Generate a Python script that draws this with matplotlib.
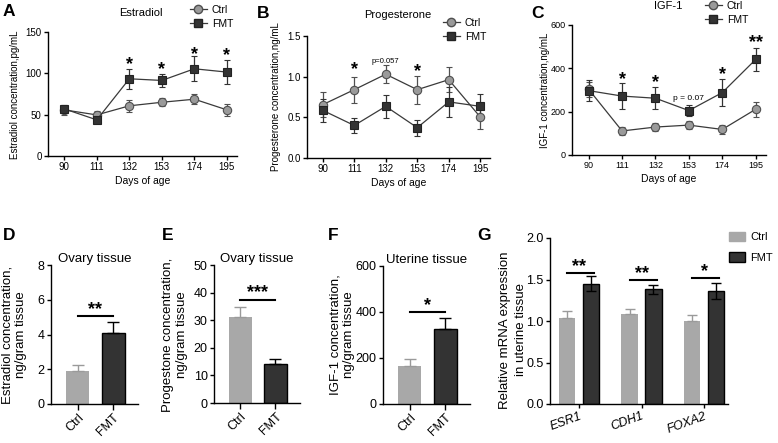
import matplotlib
matplotlib.use("Agg")
import matplotlib.pyplot as plt
import numpy as np
from matplotlib.lines import Line2D
from matplotlib.patches import Patch

plt.rcParams['font.family'] = ['Liberation Sans', 'DejaVu Sans']
plt.rcParams['axes.linewidth'] = 1.0

W, H = 778, 443

# ---------------- data ----------------
days = [90, 111, 132, 153, 174, 195]

e2_ctrl = [55.8, 49.7, 60.7, 65.0, 68.7, 55.8]
e2_ctrl_err = [6, 5, 7, 5, 6, 7]
e2_fmt = [57.0, 43.7, 93.4, 91.4, 105.5, 101.5]
e2_fmt_err = [5, 3, 12, 8, 15, 15]

p4_ctrl = [0.656, 0.84, 1.03, 0.84, 0.963, 0.504]
p4_ctrl_err = [0.15, 0.16, 0.11, 0.17, 0.15, 0.15]
p4_fmt = [0.586, 0.40, 0.635, 0.373, 0.69, 0.635]
p4_fmt_err = [0.14, 0.09, 0.14, 0.10, 0.18, 0.15]

igf_ctrl = [303, 111, 129, 138, 118, 211]
igf_ctrl_err = [35, 17, 20, 20, 20, 35]
igf_fmt = [297, 272, 262, 205, 288, 441]
igf_fmt_err = [50, 59, 50, 26, 61, 55]

groups = ['Ctrl', 'FMT']
ovary_e2 = [1.9, 4.1]
ovary_e2_err = [0.35, 0.6]
ovary_p4 = [31.3, 14.1]
ovary_p4_err = [3.4, 2.0]
uterus_igf = [165, 328]
uterus_igf_err = [30, 48]

genes = ['ESR1', 'CDH1', 'FOXA2']
mrna_ctrl = [1.04, 1.09, 1.00]
mrna_ctrl_err = [0.08, 0.06, 0.07]
mrna_fmt = [1.45, 1.38, 1.36]
mrna_fmt_err = [0.09, 0.05, 0.10]

CTRL_BAR = '#a8a8a8'
FMT_BAR = '#333333'
CTRL_MK = '#9a9a9a'
LINE_C = '#3a3a3a'

fig = plt.figure(figsize=(W / 100, H / 100), dpi=100)


def add_ax(l, r, t, b):
    return fig.add_axes([l / W, 1 - b / H, (r - l) / W, (b - t) / H])


def px(x, y):
    return x / W, 1 - y / H


def style(ax, fs, pad=2):
    ax.spines['top'].set_visible(False)
    ax.spines['right'].set_visible(False)
    ax.tick_params(labelsize=fs, length=3, width=1.0, pad=pad)


def line_panel(ax, ctrl, cerr, fmt, ferr, ylim, yticks, ytl, fs=7):
    ax.errorbar(days, ctrl, yerr=cerr, color=LINE_C, lw=0.9, marker='o', ms=6,
                mfc=CTRL_MK, mec='#505050', mew=0.8, capsize=2.5, elinewidth=0.9,
                ecolor='#505050', zorder=3)
    ax.errorbar(days, fmt, yerr=ferr, color=LINE_C, lw=0.9, marker='s', ms=6,
                mfc='#333333', mec='#222222', mew=0.8, capsize=2.5, elinewidth=0.9,
                ecolor='#333333', zorder=3)
    ax.set_xlim(79.5, 201.5)
    ax.set_ylim(*ylim)
    ax.set_xticks(days)
    ax.set_yticks(yticks)
    ax.set_yticklabels(ytl)
    style(ax, fs, pad=1.5)
    ax.set_xlabel('Days of age', fontsize=7.5, labelpad=3)


def star(ax, x, y, s, fs=13):
    ax.text(x, y, s, ha='center', va='center', fontsize=fs, fontweight='bold')


# ---------------- A ----------------
axA = add_ax(48, 237, 32, 156)
line_panel(axA, e2_ctrl, e2_ctrl_err, e2_fmt, e2_fmt_err, (0, 150),
           [0, 50, 100, 150], ['0', '50', '100', '150'])
for d, y in zip([132, 153, 174, 195], [110, 104, 123, 121]):
    star(axA, d, y, '*')
fig.text(*px(141, 13), 'Estradiol', ha='center', va='center', fontsize=8)
fig.text(*px(15, 95), 'Estradiol concentration,pg/mL', rotation=90,
         ha='center', va='center', fontsize=7)

# ---------------- B ----------------
axB = add_ax(307, 490, 36, 158)
line_panel(axB, p4_ctrl, p4_ctrl_err, p4_fmt, p4_fmt_err, (0, 1.5),
           [0, 0.5, 1.0, 1.5], ['0.0', '0.5', '1.0', '1.5'])
star(axB, 111, 1.085, '*')
star(axB, 153, 1.065, '*')
axB.text(132, 1.19, 'p=0.057', ha='center', va='center', fontsize=5.5)
fig.text(*px(398, 15), 'Progesterone', ha='center', va='center', fontsize=8)
fig.text(*px(276, 97), 'Progesterone concentration,ng/mL', rotation=90,
         ha='center', va='center', fontsize=7)

# ---------------- C ----------------
axC = add_ax(572, 766, 25, 155)
line_panel(axC, igf_ctrl, igf_ctrl_err, igf_fmt, igf_fmt_err, (0, 600),
           [0, 200, 400, 600], ['0', '200', '400', '600'], fs=6.5)
for d, y, s in zip([111, 132, 174, 195], [350, 336, 373, 518], ['*', '*', '*', '**']):
    star(axC, d, y, s)
axC.text(153, 262, 'p = 0.07', ha='center', va='center', fontsize=6)
fig.text(*px(668, 6), 'IGF-1', ha='center', va='center', fontsize=8)
fig.text(*px(545, 90), 'IGF-1 concentration,ng/mL', rotation=90,
         ha='center', va='center', fontsize=7)

# legends for line panels
def line_legend(anchor):
    h = [Line2D([], [], color=LINE_C, lw=0.9, marker='o', ms=6, mfc=CTRL_MK,
                mec='#505050'),
         Line2D([], [], color=LINE_C, lw=0.9, marker='s', ms=6, mfc='#333333',
                mec='#222222')]
    return fig.legend(h, ['Ctrl', 'FMT'], loc='upper left', bbox_to_anchor=anchor,
                      frameon=False, fontsize=7.5, handlelength=1.6,
                      handletextpad=0.5, labelspacing=0.35, borderpad=0,
                      borderaxespad=0)

line_legend(px(190, 5))
line_legend(px(443, 18))
line_legend(px(705, 1))


# ---------------- bar panels ----------------
def bar2(ax, vals, errs, ylim, yticks, title, fs=9):
    x = np.arange(len(groups))
    ax.bar(x[0], vals[0], 0.64, color=CTRL_BAR, zorder=2)
    ax.bar(x[1], vals[1], 0.64, color=FMT_BAR, edgecolor='black', lw=1.0, zorder=2)
    ax.errorbar([x[0]], [vals[0]], yerr=[[0], [errs[0]]], fmt='none', ecolor='#9a9a9a',
                capsize=4, elinewidth=1.0, capthick=1.0, zorder=3)
    ax.errorbar([x[1]], [vals[1]], yerr=[[0], [errs[1]]], fmt='none', ecolor='black',
                capsize=4, elinewidth=1.0, capthick=1.0, zorder=3)
    ax.set_xlim(-0.75, 1.7)
    ax.set_ylim(*ylim)
    ax.set_yticks(yticks)
    ax.set_xticks(x)
    ax.set_xticklabels(groups, rotation=45, ha='right', rotation_mode='anchor')
    style(ax, fs, pad=1.5)
    ax.tick_params(axis='x', length=4)
    ax.set_title(title, fontsize=9.5, pad=2)


axD = add_ax(51, 138, 265, 404)
bar2(axD, ovary_e2, ovary_e2_err, (0, 8), [0, 2, 4, 6, 8], 'Ovary tissue')
axD.plot([0, 1], [5.05, 5.05], color='black', lw=1.5)
star(axD, 0.5, 5.45, '**', 13)
fig.text(*px(14, 335), 'Estradiol concentration,\nng/gram tissue', rotation=90,
         ha='center', va='center', fontsize=9.5, linespacing=1.2)

axE = add_ax(214, 300, 265, 403)
bar2(axE, ovary_p4, ovary_p4_err, (0, 50), [0, 10, 20, 30, 40, 50], 'Ovary tissue')
axE.plot([0, 1], [37.3, 37.3], color='black', lw=1.5)
star(axE, 0.5, 40.0, '***', 13)
fig.text(*px(175, 335), 'Progestone concentration,\nng/gram tissue', rotation=90,
         ha='center', va='center', fontsize=9.5, linespacing=1.2)

axF = add_ax(383, 470, 266, 404)
bar2(axF, uterus_igf, uterus_igf_err, (0, 600), [0, 200, 400, 600], 'Uterine tissue')
axF.plot([0, 1], [402, 402], color='black', lw=1.5)
star(axF, 0.5, 430, '*', 13)
fig.text(*px(342, 335), 'IGF-1 concentration,\nng/gram tissue', rotation=90,
         ha='center', va='center', fontsize=9.5, linespacing=1.15)

# ---------------- G ----------------
axG = add_ax(550, 728, 238, 404)
xg = np.arange(len(genes))
off, bw = 0.19, 0.26
axG.bar(xg - off, mrna_ctrl, bw, color=CTRL_BAR, zorder=2, label='Ctrl')
axG.bar(xg + off, mrna_fmt, bw, color=FMT_BAR, edgecolor='black', lw=1.0, zorder=2,
        label='FMT')
axG.errorbar(xg - off, mrna_ctrl, yerr=[[0] * 3, mrna_ctrl_err], fmt='none',
             ecolor='#9a9a9a', capsize=3.5, elinewidth=1.0, zorder=3)
axG.errorbar(xg + off, mrna_fmt, yerr=mrna_fmt_err, fmt='none', ecolor='black',
             capsize=3.5, elinewidth=1.0, zorder=3)
axG.set_xlim(-0.46, 2.38)
axG.set_ylim(0, 2.0)
axG.set_yticks([0, 0.5, 1.0, 1.5, 2.0])
axG.set_yticklabels(['0.0', '0.5', '1.0', '1.5', '2.0'])
axG.set_xticks(xg)
axG.set_xticklabels(genes, rotation=20, ha='right', rotation_mode='anchor',
                    fontstyle='italic')
style(axG, 9, pad=1.5)
for i, (yl, ys, s) in enumerate(zip([1.58, 1.49, 1.52], [1.65, 1.57, 1.59],
                                    ['**', '**', '*'])):
    axG.plot([i - off, i + off + 0.05], [yl, yl], color='black', lw=1.5)
    star(axG, i, ys, s, 13)
fig.text(*px(513, 330), 'Relative mRNA expression\nin uterine tissue', rotation=90,
         ha='center', va='center', fontsize=9.5, linespacing=1.35)
fig.legend([Patch(color=CTRL_BAR), Patch(facecolor=FMT_BAR, edgecolor='black')],
           ['Ctrl', 'FMT'], loc='upper left', bbox_to_anchor=px(729, 232),
           frameon=False, fontsize=8, handlelength=1.4, handleheight=0.9,
           handletextpad=0.5, labelspacing=0.9, borderpad=0, borderaxespad=0)

# ---------------- panel letters ----------------
for lab, (x, y) in zip('ABCDEFG', [(9, 12), (263, 13), (538, 13), (9, 235),
                                   (168, 235), (333, 235), (484, 235)]):
    fig.text(*px(x, y), lab, ha='center', va='center', fontsize=12.5, fontweight='bold')

fig.savefig('out.png', dpi=100)
